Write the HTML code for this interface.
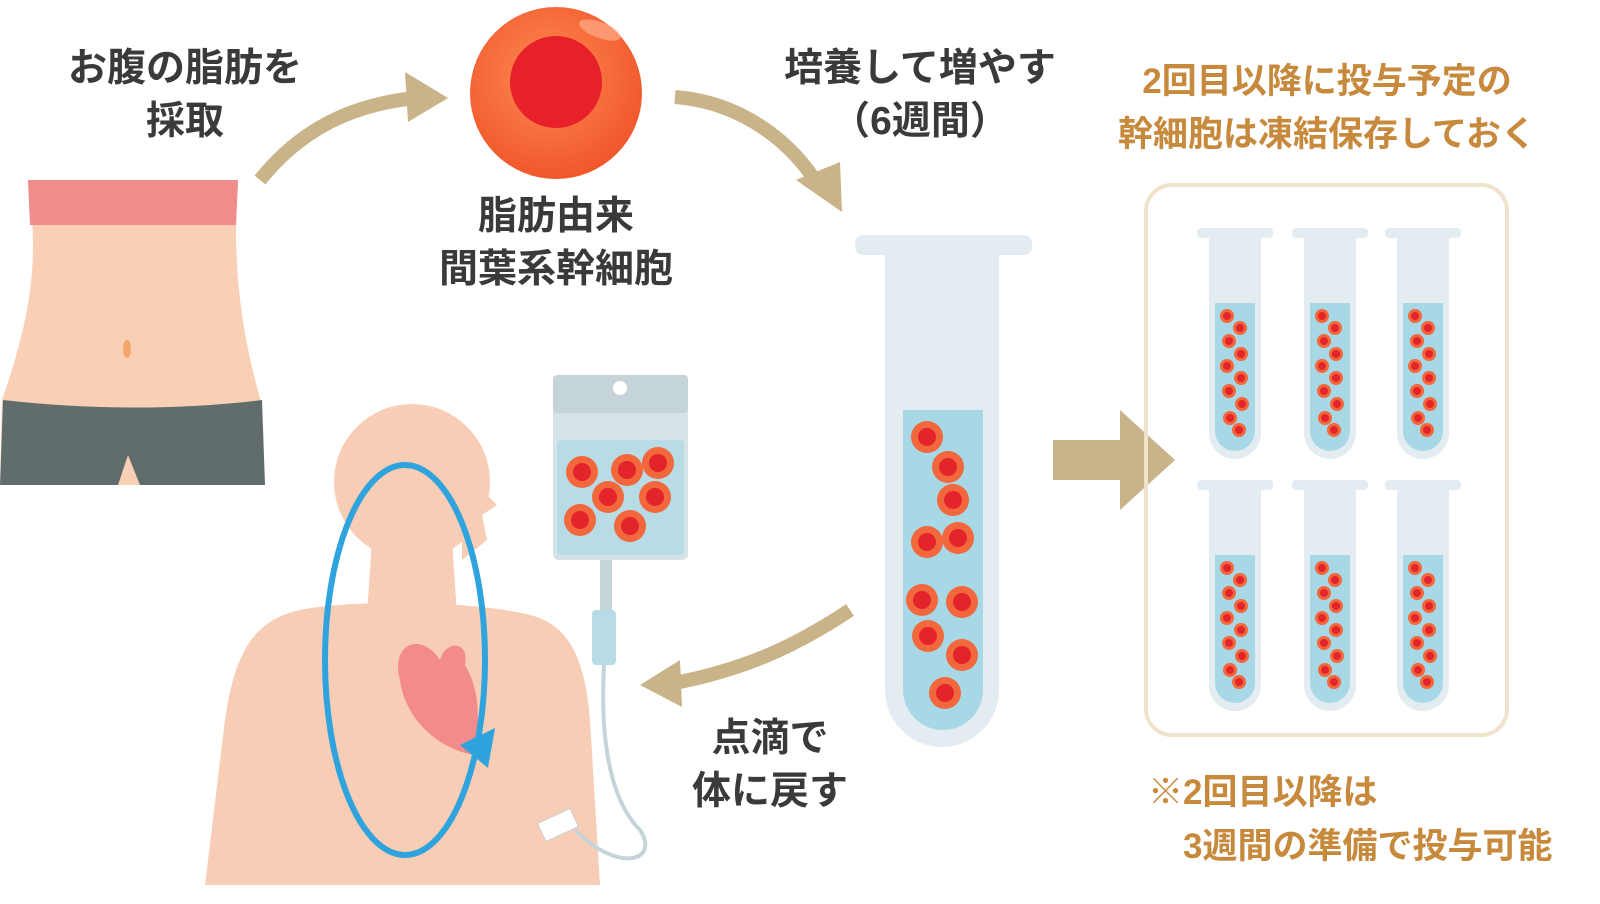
<!DOCTYPE html>
<html><head><meta charset="utf-8"><style>
html,body{margin:0;padding:0;background:#fff}
svg{display:block}
text{font-family:"Liberation Sans","Noto Sans CJK JP",sans-serif;font-weight:bold}
</style></head><body>
<svg width="1600" height="904" viewBox="0 0 1600 904" xmlns="http://www.w3.org/2000/svg">
<defs>
<radialGradient id="cg" cx="0.45" cy="0.4" r="0.6"><stop offset="0" stop-color="#ff8a50"/><stop offset="1" stop-color="#f0582c"/></radialGradient>
<g id="rc"><circle r="16" fill="#f2683c"/><circle r="9" fill="#e3242b"/></g>
<g id="sc"><circle r="7" fill="#f2683c"/><circle r="4" fill="#e3242b"/></g>
<g id="st">
<rect x="-38" y="0" width="76" height="10" rx="4" fill="#e3ecf1"/>
<path d="M-26 8 V205 a26 26 0 0 0 52 0 V8 Z" fill="#e3ecf1"/>
<path d="M-20 75 V203 a20 20 0 0 0 40 0 V75 Z" fill="#a8d8e6"/>
<use href="#sc" x="-8" y="88"/><use href="#sc" x="5" y="100"/><use href="#sc" x="-6" y="113"/><use href="#sc" x="6" y="126"/><use href="#sc" x="-8" y="138"/><use href="#sc" x="6" y="150"/><use href="#sc" x="-6" y="163"/><use href="#sc" x="7" y="176"/><use href="#sc" x="-5" y="190"/><use href="#sc" x="4" y="202"/>
</g>
</defs>

<g fill="#3a3a3a" font-size="39" text-anchor="middle">
<text x="185" y="81">お腹の脂肪を</text><text x="185" y="134">採取</text>
<text x="556" y="229">脂肪由来</text><text x="556" y="282">間葉系幹細胞</text>
<text x="920" y="81">培養して増やす</text><text x="920" y="134">（6週間）</text>
<text x="770" y="751">点滴で</text><text x="770" y="804">体に戻す</text>
</g>
<g fill="#c7893c" font-size="35">
<text x="1327" y="93" text-anchor="middle">2回目以降に投与予定の</text>
<text x="1327" y="146" text-anchor="middle">幹細胞は凍結保存しておく</text>
<text x="1148" y="804">※2回目以降は</text>
<text x="1183" y="858">3週間の準備で投与可能</text>
</g>

<path d="M28 185 H238 C232 260 240 330 262 405 L265 485 H0 L2 400 C30 320 40 260 28 185 Z" fill="#f9cfb5"/>
<path d="M28 180 H238 L236 225 H30 Z" fill="#f08c8c"/>
<path d="M3 400 C90 410 180 410 262 400 L265 485 H140 L128 455 L118 485 H0 Z" fill="#616d6d"/>
<ellipse cx="127" cy="349" rx="4" ry="9" fill="#f2a66a"/>

<g fill="none" stroke="#c9b48a" stroke-width="14">
<path d="M260 180 C300 130 350 105 415 98"/>
<path d="M675 97 C740 102 790 140 818 185"/>
<path d="M850 610 C790 650 740 670 675 683"/>
</g>
<g fill="#c9b48a">
<path d="M405 72 L448 98 L408 122 Z"/>
<path d="M796 180 L842 212 L840 162 Z"/>
<path d="M680 660 L640 685 L682 707 Z"/>
<path d="M1053 440 H1120 V410 L1175 460 L1120 510 V480 H1053 Z"/>
</g>

<circle cx="556" cy="93" r="86" fill="url(#cg)"/>
<circle cx="556" cy="82" r="46" fill="#e8202a"/>
<ellipse cx="600" cy="30" rx="22" ry="8" fill="#ffb79a" opacity="0.6" transform="rotate(20 600 30)"/>

<rect x="855" y="235" width="177" height="20" rx="8" fill="#e3ecf1"/>
<path d="M885 250 V690 a57 57 0 0 0 114 0 V250 Z" fill="#e3ecf1"/>
<path d="M903 410 V690 a40 40 0 0 0 80 0 V410 Z" fill="#a8d8e6"/>
<g>
<use href="#rc" x="927" y="437"/><use href="#rc" x="948" y="467"/><use href="#rc" x="953" y="500"/><use href="#rc" x="927" y="542"/><use href="#rc" x="958" y="538"/><use href="#rc" x="922" y="600"/><use href="#rc" x="962" y="602"/><use href="#rc" x="928" y="636"/><use href="#rc" x="962" y="655"/><use href="#rc" x="945" y="693"/>
</g>

<rect x="1146" y="185" width="361" height="550" rx="26" fill="none" stroke="#efe3cc" stroke-width="4"/>
<use href="#st" x="1235" y="228"/><use href="#st" x="1330" y="228"/><use href="#st" x="1423" y="228"/>
<use href="#st" x="1235" y="480"/><use href="#st" x="1330" y="480"/><use href="#st" x="1423" y="480"/>

<g fill="#f8cdb5">
<circle cx="412" cy="482" r="78"/>
<path d="M462 470 L497 505 L482 515 L487 540 L462 560 Z"/>
<path d="M372 540 H452 L457 615 H367 Z"/>
<path d="M300 610 C350 600 470 600 530 615 C570 625 585 660 590 720 L600 885 H205 L225 720 C235 650 255 620 300 610 Z"/>
</g>
<path d="M440 660 C420 630 390 645 400 680 C405 720 440 750 475 755 C480 720 480 690 465 665 C470 640 445 640 440 660 Z" fill="#f28b8b"/>
<ellipse cx="405" cy="660" rx="80" ry="195" fill="none" stroke="#2ea3dd" stroke-width="6"/>
<path d="M460 745 L495 728 L488 768 Z" fill="#2ea3dd"/>

<rect x="553" y="375" width="135" height="185" rx="6" fill="#d5e2e6"/>
<rect x="553" y="375" width="135" height="38" rx="4" fill="#c5d4d8"/>
<circle cx="620" cy="388" r="7" fill="#fff"/>
<rect x="557" y="440" width="127" height="115" rx="4" fill="#b8dce6"/>
<use href="#rc" x="582" y="472"/><use href="#rc" x="627" y="470"/><use href="#rc" x="658" y="463"/><use href="#rc" x="608" y="497"/><use href="#rc" x="655" y="497"/><use href="#rc" x="580" y="520"/><use href="#rc" x="630" y="526"/>
<rect x="600" y="560" width="12" height="50" fill="#c5d4d8"/>
<rect x="592" y="610" width="24" height="55" rx="4" fill="#b8dce6"/>
<path d="M604 665 C600 740 610 800 640 830 C660 860 620 875 575 830" fill="none" stroke="#c5d4d8" stroke-width="4"/>
<rect x="540" y="815" width="36" height="20" fill="#fff" stroke="#ccc" transform="rotate(-25 558 825)"/>
</svg>
</body></html>
